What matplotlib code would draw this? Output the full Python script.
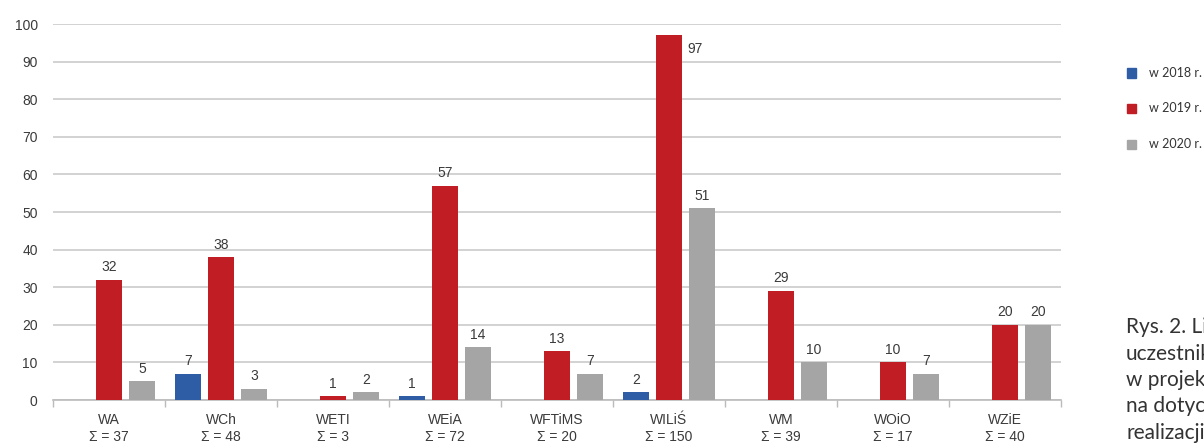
import numpy as np
import matplotlib
matplotlib.use("Agg")
import matplotlib.pyplot as plt

# data
wydzialy = ["WA", "WCh", "WETI", "WEiA", "WFTiMS", "WILiŚ", "WM", "WOiO", "WZiE"]
w2018 = [0, 7, 0, 1, 0, 2, 0, 0, 0]
w2019 = [32, 38, 1, 57, 13, 97, 29, 10, 20]
w2020 = [5, 3, 2, 14, 7, 51, 10, 7, 20]
lata = ["w 2018 r.", "w 2019 r.", "w 2020 r."]
kolory = ["#2e5da6", "#c01d25", "#a5a5a5"]
podpis = ["Rys. 2. Liczba", "uczestników", "w projekcie", "na dotychczas", "realizacji"]

plt.rcParams['font.family'] = ['Liberation Sans', 'DejaVu Sans']
txt = "#3a3a3a"

fig = plt.figure(figsize=(12.04, 4.43), dpi=100)
ax = fig.add_axes([53/1204, 1 - 400/443, 1008/1204, 376/443])

x = np.arange(len(wydzialy))
step = 0.295
width = 0.232
serie = [w2018, w2019, w2020]

for i, (vals, col) in enumerate(zip(serie, kolory)):
    pos = x + (i - 1) * step
    for p, v in zip(pos, vals):
        if v == 0:
            continue
        ax.bar(p, v, width=width, color=col, zorder=3)
        if v > 90:
            # label beside the bar when it reaches the top
            ax.annotate(str(v), (p + width / 2, v), xytext=(4, -5),
                        textcoords="offset points", ha="left", va="top",
                        fontsize=10, color=txt)
        else:
            ax.annotate(str(v), (p, v), xytext=(0, 4),
                        textcoords="offset points", ha="center", va="bottom",
                        fontsize=10, color=txt)

sumy = [a + b + c for a, b, c in zip(w2018, w2019, w2020)]
etykiety = [f"{w}\nΣ = {s}" for w, s in zip(wydzialy, sumy)]

ax.set_xlim(-0.5, len(wydzialy) - 0.5)
ax.set_ylim(0, 100)
ax.set_yticks(range(0, 101, 10))
ax.set_xticks(x)
ax.set_xticklabels(etykiety, linespacing=1.35)
ax.set_xticks(np.arange(-0.5, len(wydzialy), 1), minor=True)
ax.tick_params(axis="x", which="major", length=0, pad=9, labelsize=10, labelcolor=txt)
ax.tick_params(axis="x", which="minor", length=5, color="#bbbbbb", width=1)
ax.tick_params(axis="y", length=0, pad=11, labelsize=10, labelcolor=txt)

ax.grid(axis="y", color="#cfcfcf", linewidth=1.3, zorder=0)
for s in ["top", "right", "left"]:
    ax.spines[s].set_visible(False)
ax.spines["bottom"].set_color("#bbbbbb")
ax.spines["bottom"].set_linewidth(1.2)

# legend drawn as squares + text to the right
for i, (lab, col) in enumerate(zip(lata, kolory)):
    yy = 1 - (73 + i * 35.5) / 443
    fig.patches.append(plt.Rectangle((1127/1204, yy - 4.5/443), 9/1204, 9/443,
                                     transform=fig.transFigure, color=col))
    fig.text(1149/1204, yy, lab, fontsize=9, color="#333333",
             family=["Lato", "DejaVu Sans"], va="center", ha="left")

# caption runs off the right edge, as in the source page
for i, linia in enumerate(podpis):
    fig.text(1126/1204, 1 - (327 + i * 26.5) / 443, linia, fontsize=15,
             color="#333333", family=["Lato", "DejaVu Sans"], va="center", ha="left")

fig.savefig("out.png", dpi=100)
